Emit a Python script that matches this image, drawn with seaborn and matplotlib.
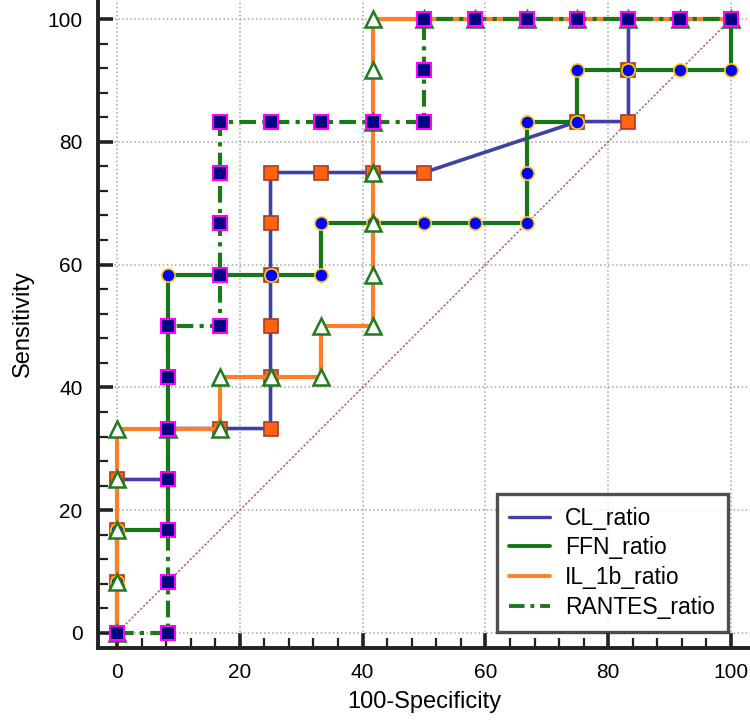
import matplotlib
matplotlib.use("Agg")
import matplotlib.pyplot as plt
from matplotlib.lines import Line2D
from matplotlib.ticker import MultipleLocator
import seaborn as sns
import pandas as pd

# ROC points (100-Specificity, Sensitivity)
cl_x = [0, 0, 0, 0, 8.3, 8.3, 16.7, 25, 25, 25, 25, 25, 25, 33.3, 41.7, 50, 75, 83.3, 83.3, 83.3, 91.7, 100]
cl_y = [0, 8.3, 16.7, 25, 25, 33.3, 33.3, 33.3, 41.7, 50, 58.3, 66.7, 75, 75, 75, 75, 83.3, 83.3, 91.7, 100, 100, 100]

ffn_x = [0, 0, 0, 8.3, 8.3, 8.3, 8.3, 8.3, 8.3, 16.7, 25, 33.3, 33.3, 41.7, 50, 58.3, 66.7, 66.7, 66.7, 75, 75, 83.3, 91.7, 100, 100]
ffn_y = [0, 8.3, 16.7, 16.7, 25, 33.3, 41.7, 50, 58.3, 58.3, 58.3, 58.3, 66.7, 66.7, 66.7, 66.7, 66.7, 75, 83.3, 83.3, 91.7, 91.7, 91.7, 91.7, 100]

il_x = [0, 0, 0, 0, 0, 8.3, 16.7, 16.7, 25, 33.3, 33.3, 41.7, 41.7, 41.7, 41.7, 41.7, 41.7, 41.7, 50, 58.3, 66.7, 75, 83.3, 91.7, 100]
il_y = [0, 8.3, 16.7, 25, 33.3, 33.3, 33.3, 41.7, 41.7, 41.7, 50, 50, 58.3, 66.7, 75, 83.3, 91.7, 100, 100, 100, 100, 100, 100, 100, 100]

rantes_x = [0, 8.3, 8.3, 8.3, 8.3, 8.3, 8.3, 8.3, 16.7, 16.7, 16.7, 16.7, 16.7, 25, 33.3, 41.7, 50, 50, 50, 58.3, 66.7, 75, 83.3, 91.7, 100]
rantes_y = [0, 0, 8.3, 16.7, 25, 33.3, 41.7, 50, 50, 58.3, 66.7, 75, 83.3, 83.3, 83.3, 83.3, 83.3, 91.7, 100, 100, 100, 100, 100, 100, 100]

diag = [0, 100]

labels = ["CL_ratio", "FFN_ratio", "IL_1b_ratio", "RANTES_ratio"]

sns.set_style("white")
plt.rcParams["font.family"] = ["Liberation Sans", "DejaVu Sans"]
plt.rcParams["text.color"] = "black"
plt.rcParams["axes.labelcolor"] = "black"
plt.rcParams["xtick.color"] = "black"
plt.rcParams["ytick.color"] = "black"

fig = plt.figure(figsize=(7.5, 7.21), dpi=100)
ax = fig.add_axes([98 / 750, 73 / 721, 652 / 750, 648 / 721])

ax.grid(True, which="major", ls=":", color="#a5a5a5", lw=1.1, zorder=0)
ax.set_axisbelow(True)

sns.lineplot(x=diag, y=diag, ax=ax, color="#b0606a", lw=1.1, ls=(0, (1.5, 1.2)), zorder=1)

styles = [
    (cl_x, cl_y, dict(color="#3f40a8", lw=2.6, ls="-", marker="s", markersize=10,
                      markerfacecolor="#ff6410", markeredgecolor="#a83a2a", markeredgewidth=1.2)),
    (ffn_x, ffn_y, dict(color="#167516", lw=3.0, ls="-", marker="o", markersize=9.5,
                        markerfacecolor="#0000ff", markeredgecolor="#ffcc00", markeredgewidth=1.2)),
    (il_x, il_y, dict(color="#ff7f27", lw=3.0, ls="-", marker="^", markersize=11,
                      markerfacecolor="white", markeredgecolor="#1e7b1e", markeredgewidth=1.8)),
    (rantes_x, rantes_y, dict(color="#1a7a1a", lw=3.0, ls=(0, (4, 1.5, 1, 1.5)), marker="s", markersize=10,
                              markerfacecolor="#00007f", markeredgecolor="#ff00ff", markeredgewidth=1.5)),
]

for i, (xs, ys, kw) in enumerate(styles):
    df = pd.DataFrame({"x": xs, "y": ys})
    sns.lineplot(data=df, x="x", y="y", ax=ax, sort=False, estimator=None, zorder=3 + i, **kw)

ax.set_xlim(-3.1, 103.1)
ax.set_ylim(-2.45, 103.1)
ax.xaxis.set_major_locator(MultipleLocator(20))
ax.yaxis.set_major_locator(MultipleLocator(20))
ax.xaxis.set_minor_locator(MultipleLocator(4))
ax.yaxis.set_minor_locator(MultipleLocator(4))

for s in ["top", "right"]:
    ax.spines[s].set_visible(False)
for s in ["left", "bottom"]:
    ax.spines[s].set_color("#222222")
    ax.spines[s].set_linewidth(2.8)

ax.tick_params(which="both", bottom=True, left=True, top=False, right=False)
ax.tick_params(which="major", direction="in", length=11, width=2.6, color="#222222", labelsize=15)
ax.tick_params(which="minor", direction="in", length=7, width=1.6, color="#222222")
ax.tick_params(axis="x", which="major", pad=11)
ax.tick_params(axis="y", which="major", pad=11)

ax.set_xlabel("100-Specificity", fontsize=17, labelpad=6)
ax.set_ylabel("Sensitivity", fontsize=17, labelpad=10)

handles = [
    Line2D([], [], color="#3f40a8", lw=2.4),
    Line2D([], [], color="#167516", lw=2.8),
    Line2D([], [], color="#ff7f27", lw=2.8),
    Line2D([], [], color="#1a7a1a", lw=2.8, ls=(0, (4, 1.5, 1, 1.5))),
]
leg = ax.legend(handles, labels, loc="lower right", bbox_to_anchor=(0.966, 0.025),
                borderaxespad=0, fontsize=16.5, frameon=True, fancybox=False,
                handlelength=1.8, labelspacing=0.3, borderpad=0.55, handletextpad=0.65)
leg.get_frame().set_edgecolor("#222222")
leg.get_frame().set_linewidth(2.4)
leg.set_zorder(10)

fig.savefig("out.png", dpi=100)
